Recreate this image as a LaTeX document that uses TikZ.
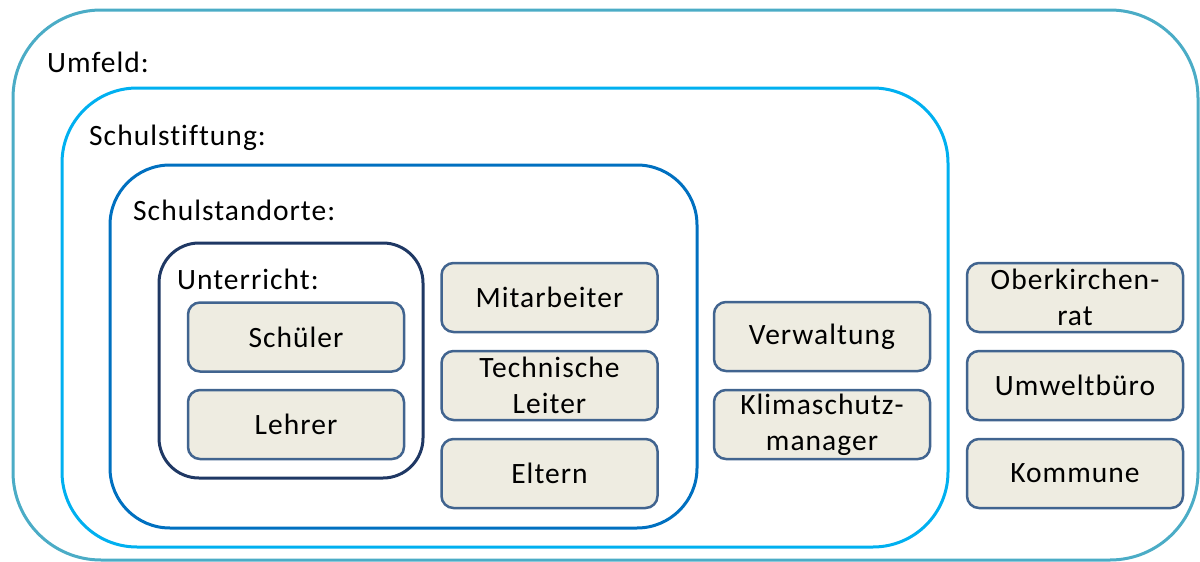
\documentclass[tikz,border=0pt]{standalone}
\usepackage{fontspec}
\setmainfont{Carlito}[LetterSpace=3.5, Ligatures={NoCommon}]
\definecolor{umfeldc}{HTML}{4BACC6}
\definecolor{stiftc}{HTML}{00B0F0}
\definecolor{standc}{HTML}{0070C0}
\definecolor{unterc}{HTML}{1F3864}
\definecolor{boxfill}{HTML}{EEECE1}
\definecolor{boxline}{HTML}{41648F}
\tikzset{
  area/.style={draw, fill=none, rectangle, inner sep=0pt, line width=3pt},
  areatitle/.style={anchor=base west, inner sep=0pt, font=\fontsize{29.5}{36}\selectfont},
  box/.style={draw=boxline, fill=boxfill, rectangle, line width=2.5pt,
    rounded corners=12pt, minimum width=216pt, minimum height=69pt,
    align=center, inner sep=0pt, font=\fontsize{29.5}{36}\selectfont},
}
\begin{document}
\begin{tikzpicture}[x=1pt, y=-1pt]
\useasboundingbox (0,0) rectangle (1200,562);
% nested areas
\node[area, draw=umfeldc, rounded corners=88pt, minimum width=1185pt, minimum height=550pt] (umfeld) at (605.5,285) {};
\node[area, draw=stiftc, rounded corners=75pt, minimum width=886pt, minimum height=459pt] (stiftung) at (505,317.5) {};
\node[area, draw=standc, rounded corners=60pt, minimum width=587pt, minimum height=363pt] (standorte) at (403.5,346.5) {};
\node[area, draw=unterc, rounded corners=40pt, minimum width=264pt, minimum height=235pt] (unterricht) at (291,360.5) {};
% area titles
\node[areatitle] (tumfeld) at (47,72) {Umfeld:};
\node[areatitle] (tstiftung) at (89,145) {Schulstiftung:};
\node[areatitle] (tstandorte) at (133,220) {Schulstandorte:};
\node[areatitle] (tunterricht) at (177,289) {Unterricht:};
% stakeholders
\node[box] (schueler) at (296,337) {Schüler};
\node[box] (lehrer) at (296,424.5) {Lehrer};
\node[box] (mitarbeiter) at (549.5,297.5) {Mitarbeiter};
\node[box] (technik) at (549.5,385.5) {Technische\\Leiter};
\node[box] (eltern) at (549.5,473.5) {Eltern};
\node[box] (verwaltung) at (822,336.5) {Verwaltung};
\node[box] (klima) at (822,424.5) {Klimaschutz-\\manager};
\node[box] (okr) at (1075,297.5) {Oberkirchen-\\rat};
\node[box] (umwelt) at (1075,385.5) {Umweltbüro};
\node[box] (kommune) at (1075,473.5) {Kommune};
\end{tikzpicture}
\end{document}
